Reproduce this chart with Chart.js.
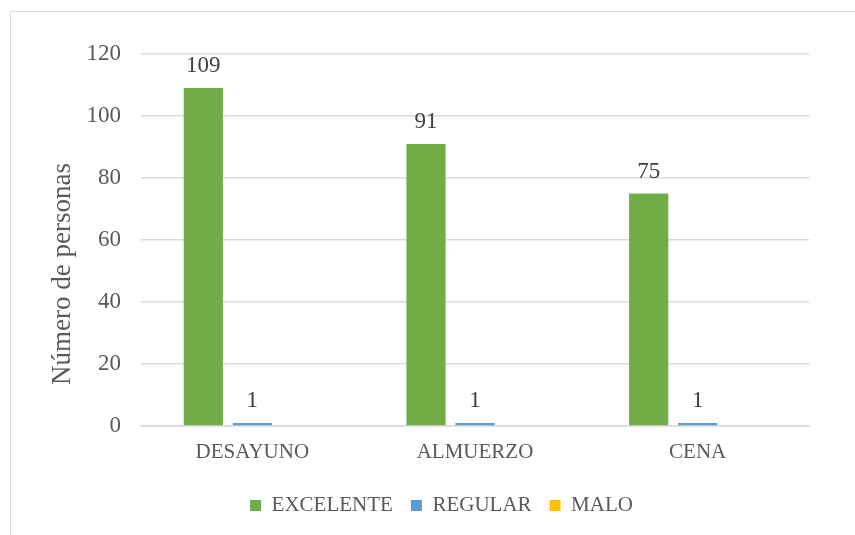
<!DOCTYPE html>
<html>
<head>
<meta charset="utf-8">
<script src="https://cdn.jsdelivr.net/npm/chart.js@4/dist/chart.umd.min.js"></script>
<style>
  html, body { margin: 0; padding: 0; background: #fff; }
  #wrap { width: 855px; height: 535px; }
</style>
</head>
<body>
<div id="wrap"><canvas id="chart" width="855" height="535"></canvas></div>
<script>
// Valoración de las comidas por número de personas
var comidas = ["DESAYUNO", "ALMUERZO", "CENA"];
var excelente = [109, 91, 75];
var regular = [1, 1, 1];
var malo = [null, null, null]; // sin respuestas
var yTicks = [0, 20, 40, 60, 80, 100, 120];
var tituloY = "Número de personas";

var serif = "'Liberation Serif', 'Times New Roman', serif";
var gris = "#595959";

// marco exterior del gráfico
var marco = {
    id: "marco",
    beforeDraw: function (chart) {
        var ctx = chart.ctx;
        ctx.save();
        ctx.strokeStyle = "#d9d9d9";
        ctx.lineWidth = 1;
        ctx.beginPath();
        ctx.moveTo(10.5, 540);
        ctx.lineTo(10.5, 11.5);
        ctx.lineTo(860, 11.5);
        ctx.stroke();
        ctx.restore();
    }
};

// etiquetas de valor encima de cada barra
var etiquetas = {
    id: "etiquetas",
    afterDatasetsDraw: function (chart) {
        var ctx = chart.ctx;
        ctx.save();
        ctx.font = "23px " + serif;
        ctx.fillStyle = "#404040";
        ctx.textAlign = "center";
        ctx.textBaseline = "alphabetic";
        chart.data.datasets.forEach(function (ds, i) {
            var meta = chart.getDatasetMeta(i);
            meta.data.forEach(function (bar, j) {
                var v = ds.data[j];
                if (v === null || v === undefined) return;
                ctx.fillText(String(v), bar.x, bar.y - 16);
            });
        });
        ctx.restore();
    }
};

// título del eje vertical
var ejeY = {
    id: "ejeY",
    afterDraw: function (chart) {
        var ctx = chart.ctx;
        ctx.save();
        ctx.translate(70, 274);
        ctx.rotate(-Math.PI / 2);
        ctx.font = "27px " + serif;
        ctx.fillStyle = gris;
        ctx.textAlign = "center";
        ctx.textBaseline = "alphabetic";
        ctx.fillText(tituloY, 0, 0);
        ctx.restore();
    }
};

new Chart(document.getElementById("chart").getContext("2d"), {
    type: "bar",
    data: {
        labels: comidas,
        datasets: [
            { label: "EXCELENTE", data: excelente, backgroundColor: "#70ad47" },
            { label: "REGULAR", data: regular, backgroundColor: "#5b9bd5" },
            { label: "MALO", data: malo, backgroundColor: "#ffc000" }
        ]
    },
    options: {
        responsive: false,
        animation: false,
        categoryPercentage: 0.66,
        barPercentage: 0.8,
        layout: { padding: { left: 74, right: 46, top: 54, bottom: 9 } },
        plugins: {
            tooltip: { enabled: false },
            legend: {
                position: "bottom",
                labels: {
                    font: { family: serif, size: 21 },
                    color: gris,
                    boxWidth: 11,
                    boxHeight: 11,
                    padding: 18
                }
            }
        },
        scales: {
            x: {
                grid: { display: false },
                border: { color: "#d9d9d9", width: 1.5 },
                ticks: { font: { family: serif, size: 21 }, color: gris, padding: 6 },
                afterFit: function (s) { s.height = 51; }
            },
            y: {
                min: 0,
                max: 120,
                afterBuildTicks: function (s) {
                    s.ticks = yTicks.map(function (v) { return { value: v }; });
                },
                grid: { color: "#d9d9d9", lineWidth: 1.5, drawTicks: false },
                border: { display: false },
                ticks: { font: { family: serif, size: 23 }, color: gris, padding: 20 },
                afterFit: function (s) { s.width = 67; }
            }
        }
    },
    plugins: [marco, etiquetas, ejeY]
});
</script>
</body>
</html>
